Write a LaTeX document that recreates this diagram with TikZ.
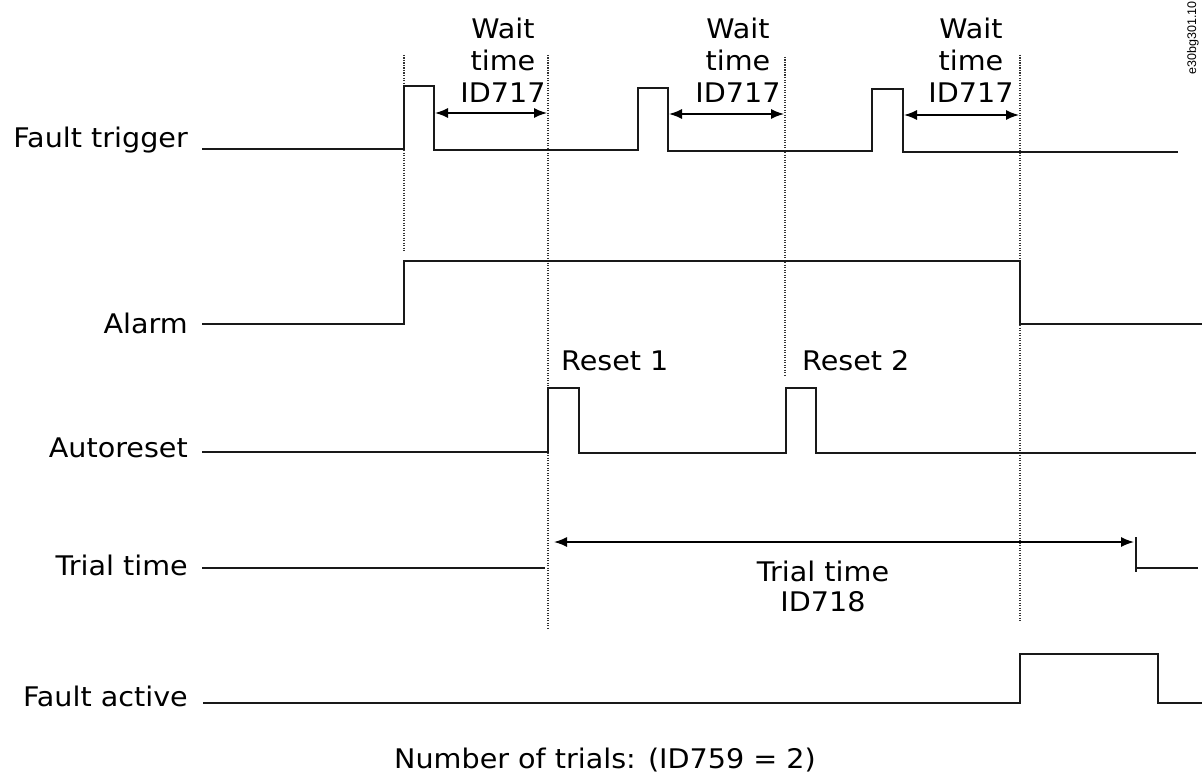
\documentclass[tikz,border=0pt]{standalone}
\usepackage{fontspec}
\setmainfont[FakeStretch=1.06]{DejaVu Sans}
\newfontfamily\codefont{Liberation Sans}
\usetikzlibrary{arrows.meta}
\begin{document}
\begin{tikzpicture}[x=1pt,y=-1pt,
  signal/.style={line width=1.7pt, line join=miter, draw=black!90},
  guide/.style={line width=1.2pt, dash pattern=on 1.2pt off 1.3pt, draw=black!80},
  dimarrow/.style={line width=1.5pt, {Latex[length=13pt,width=10pt]}-{Latex[length=13pt,width=10pt]}},
  lbl/.style={font=\fontsize{27}{32}\selectfont, inner sep=0pt},
  sidelbl/.style={lbl, anchor=base east},
]
\useasboundingbox (0,0) rectangle (1204,776);

% signal names
\node[sidelbl] (ft) at (188,147) {Fault trigger};
\node[sidelbl] (al) at (188,333) {Alarm};
\node[sidelbl] (ar) at (188,457) {Autoreset};
\node[sidelbl] (tt) at (188,575) {Trial time};
\node[sidelbl] (fa) at (188,706) {Fault active};

% guide lines
\draw[guide] (404,55) -- (404,252);
\draw[guide] (548,55) -- (548,628);
\draw[guide] (785,57) -- (785,375);
\draw[guide] (1020,55) -- (1020,622);

% Fault trigger
\draw[signal] (202,149) -- (404,149) -- (404,86) -- (434,86) -- (434,150) -- (638,150)
  -- (638,88) -- (668,88) -- (668,151) -- (872,151) -- (872,89) -- (903,89) -- (903,152) -- (1178,152);

% Alarm
\draw[signal] (202,324) -- (404,324) -- (404,261) -- (1020,261) -- (1020,324) -- (1202,324);

% Autoreset
\draw[signal] (202,452) -- (548,452) -- (548,388) -- (579,388) -- (579,453) -- (786,453)
  -- (786,388) -- (816,388) -- (816,453) -- (1196,453);

% Trial time
\draw[signal] (202,568) -- (545,568);
\draw[signal] (1136,537) -- (1136,572);
\draw[signal] (1136,568) -- (1198,568);

% Fault active
\draw[signal] (203,703) -- (1020,703) -- (1020,654) -- (1158,654) -- (1158,703) -- (1202,703);

% wait time dimensions
\coordinate (w1a) at (435,113); \coordinate (w1b) at (547,113);
\coordinate (w2a) at (669,114); \coordinate (w2b) at (784,114);
\coordinate (w3a) at (904,115); \coordinate (w3b) at (1019,115);
\draw[dimarrow] (w1a) -- (w1b);
\draw[dimarrow] (w2a) -- (w2b);
\draw[dimarrow] (w3a) -- (w3b);
\node[lbl, align=center, anchor=north] (wt1) at (503,18) {Wait\\time\\ID717};
\node[lbl, align=center, anchor=north] (wt2) at (738,18) {Wait\\time\\ID717};
\node[lbl, align=center, anchor=north] (wt3) at (971,18) {Wait\\time\\ID717};

% reset labels
\node[lbl, anchor=base west] (r1) at (561,370) {Reset 1};
\node[lbl, anchor=base west] (r2) at (802,370) {Reset 2};

% trial time dimension
\coordinate (ta) at (554,542); \coordinate (tb) at (1134,542);
\draw[dimarrow] (ta) -- (tb);
\node[lbl, align=center, anchor=north, font=\fontsize{27}{29.5}\selectfont] (ttl) at (823,561) {Trial time\\ID718};

% footer
\node[lbl, anchor=base] (nt) at (605,768) {Number of trials: (ID759 = 2)};

% figure code
\node[font=\codefont\fontsize{12.5}{14}\selectfont, rotate=90, inner sep=0pt] (code) at (1193,38) {e30bg301.10};
\end{tikzpicture}
\end{document}
